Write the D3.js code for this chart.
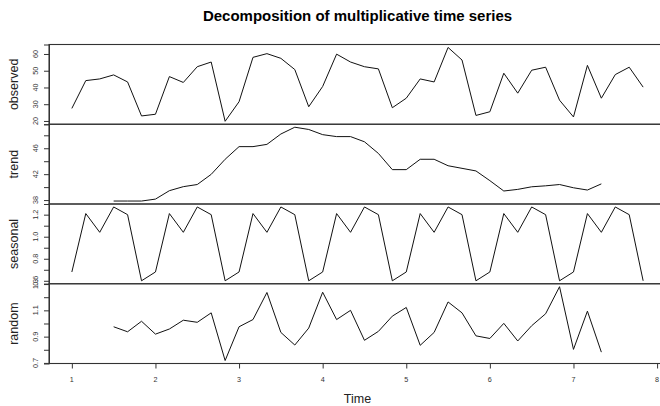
<!DOCTYPE html>
<html>
<head>
<meta charset="utf-8">
<script src="https://cdn.jsdelivr.net/npm/d3@7"></script>
<style>
  html, body { margin: 0; padding: 0; background: #fff; }
  svg { display: block; font-family: "Liberation Sans", Arial, sans-serif; }
</style>
</head>
<body>
<svg id="chart" width="660" height="406"></svg>
<script>
// ---- data (ts with start = 1, frequency = 6) ----
const startTime = 1;
const frequency = 6;
const observed = [27.5,44.1,45.1,47.5,43.3,23.0,24.0,46.5,43.0,52.4,55.2,19.8,31.5,58.0,60.2,57.4,50.7,28.5,40.6,59.9,55.2,52.4,51.1,27.9,33.6,45.1,43.3,63.9,56.4,23.3,25.5,48.5,36.6,50.3,52.1,32.4,22.4,53.2,33.6,47.7,52.1,40.2];
const trend = [null,null,null,37.85,37.85,37.85,38.15,39.45,40.07,40.4,41.97,44.3,46.25,46.25,46.6,48.2,49.25,48.9,48.1,47.8,47.8,47.0,45.2,42.7,42.7,44.3,44.3,43.3,42.9,42.5,41.0,39.4,39.65,40.05,40.2,40.4,39.9,39.55,40.5,null,null,null];
const seasonal = [0.68,1.21,1.04,1.27,1.20,0.60,0.68,1.21,1.04,1.27,1.20,0.60,0.68,1.21,1.04,1.27,1.20,0.60,0.68,1.21,1.04,1.27,1.20,0.60,0.68,1.21,1.04,1.27,1.20,0.60,0.68,1.21,1.04,1.27,1.20,0.60,0.68,1.21,1.04,1.27,1.20,0.60];
const random = [null,null,null,0.975,0.937,1.017,0.919,0.958,1.025,1.009,1.081,0.718,0.975,1.03,1.236,0.932,0.836,0.965,1.238,1.03,1.10,0.872,0.94,1.056,1.122,0.834,0.932,1.164,1.081,0.906,0.886,1.001,0.867,0.983,1.074,1.28,0.803,1.094,0.782,null,null,null];

const panelNames = ["observed", "trend", "seasonal", "random"];
const observedTicks = [20, 30, 40, 50, 60];
const observedTickLabels = [20, 30, 40, 50, 60];
const trendTicks = [38, 40, 42, 44, 46, 48];
const trendTickLabels = [38, 42, 46];
const seasonalTicks = [0.6, 0.7, 0.8, 0.9, 1.0, 1.1, 1.2];
const seasonalTickLabels = [0.6, 0.8, 1.0, 1.2];
const randomTicks = [0.7, 0.8, 0.9, 1.0, 1.1, 1.2, 1.3];
const randomTickLabels = [0.7, 0.9, 1.1, 1.3];
const timeTicks = [1, 2, 3, 4, 5, 6, 7, 8];
const title = "Decomposition of multiplicative time series";
const xLabel = "Time";

// ---- layout ----
const svg = d3.select("#chart");
const plotLeft = 49, plotRight = 666, plotTop = 44.5, plotBottom = 363.5;
const panelH = (plotBottom - plotTop) / 4;

const times = observed.map((_, i) => startTime + i / frequency);
const tExt = d3.extent(times);
const tPad = (tExt[1] - tExt[0]) * 0.04;
const x = d3.scaleLinear().domain([tExt[0] - tPad, tExt[1] + tPad]).range([plotLeft, plotRight]);

const series = [
  { name: panelNames[0], values: observed, ticks: observedTicks, labels: observedTickLabels },
  { name: panelNames[1], values: trend, ticks: trendTicks, labels: trendTickLabels },
  { name: panelNames[2], values: seasonal, ticks: seasonalTicks, labels: seasonalTickLabels },
  { name: panelNames[3], values: random, ticks: randomTicks, labels: randomTickLabels }
];

const fmt = v => (Number.isInteger(v) && v >= 10) ? String(v) : d3.format(".1f")(v);

series.forEach((s, k) => {
  const y0 = plotTop + k * panelH, y1 = y0 + panelH;
  const ext = d3.extent(s.values.filter(v => v != null));
  const pad = (ext[1] - ext[0]) * 0.04;
  const y = d3.scaleLinear().domain([ext[0] - pad, ext[1] + pad]).range([y1, y0]);

  const g = svg.append("g");

  const line = d3.line()
    .defined(d => d.v != null)
    .x(d => x(d.t))
    .y(d => y(d.v));
  g.append("path")
    .datum(s.values.map((v, i) => ({ t: times[i], v })))
    .attr("fill", "none")
    .attr("stroke", "#111")
    .attr("stroke-width", 1)
    .attr("stroke-linejoin", "round")
    .attr("d", line);

  g.append("rect")
    .attr("x", plotLeft).attr("y", y0)
    .attr("width", plotRight - plotLeft).attr("height", panelH)
    .attr("fill", "none").attr("stroke", "#333").attr("stroke-width", 1.1);

  const ax = d3.axisLeft(y).tickValues(s.ticks).tickSize(5).tickFormat("");
  const axG = g.append("g").attr("transform", `translate(${plotLeft},0)`).call(ax);
  axG.select(".domain").attr("stroke", "#333");
  axG.selectAll(".tick line").attr("stroke", "#333");

  g.selectAll("text.ylab")
    .data(s.labels)
    .enter().append("text")
    .attr("class", "ylab")
    .attr("transform", d => `translate(37.5,${y(d)}) rotate(-90)`)
    .attr("text-anchor", "middle")
    .attr("font-size", 7.2)
    .attr("fill", "#333")
    .text(d => fmt(d));

  g.append("text")
    .attr("transform", `translate(17.5,${(y0 + y1) / 2}) rotate(-90)`)
    .attr("text-anchor", "middle")
    .attr("font-size", 12.5)
    .attr("fill", "#222")
    .text(s.name);
});

const xAx = d3.axisBottom(x).tickValues(timeTicks).tickSize(5).tickFormat("");
const xG = svg.append("g").attr("transform", `translate(0,${plotBottom})`).call(xAx);
xG.select(".domain").remove();
xG.selectAll(".tick line").attr("stroke", "#333");
svg.selectAll("text.xlab")
  .data(timeTicks)
  .enter().append("text")
  .attr("class", "xlab")
  .attr("x", d => x(d))
  .attr("y", 382)
  .attr("text-anchor", "middle")
  .attr("font-size", 7.2)
  .attr("fill", "#333")
  .text(d => d);

svg.append("text")
  .attr("x", (plotLeft + plotRight) / 2)
  .attr("y", 403)
  .attr("text-anchor", "middle")
  .attr("font-size", 12.5)
  .attr("fill", "#222")
  .text(xLabel);

svg.append("text")
  .attr("x", (plotLeft + plotRight) / 2)
  .attr("y", 21)
  .attr("text-anchor", "middle")
  .attr("font-size", 15)
  .attr("font-weight", "bold")
  .attr("fill", "#000")
  .text(title);
</script>
</body>
</html>
